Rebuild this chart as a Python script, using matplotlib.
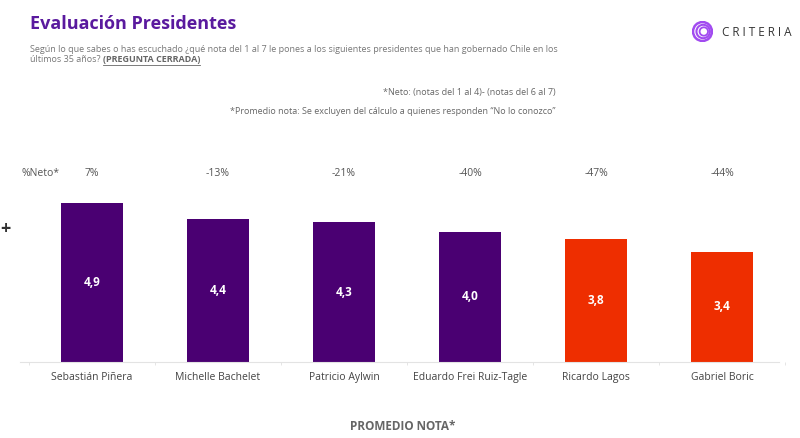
import matplotlib
matplotlib.use("Agg")
import matplotlib.pyplot as plt
from matplotlib.patches import Circle

plt.rcParams['font.family'] = ['Open Sans', 'DejaVu Sans']

presidents = ["Sebastián Piñera", "Michelle Bachelet", "Patricio Aylwin",
              "Eduardo Frei Ruiz-Tagle", "Ricardo Lagos", "Gabriel Boric"]
promedio = [4.9, 4.4, 4.3, 4.0, 3.8, 3.4]
neto = [7, -13, -21, -40, -47, -44]

PURPLE = "#4a0072"
RED = "#ee2e00"
colors = [PURPLE] * 4 + [RED] * 2

W, H = 800, 438
fig = plt.figure(figsize=(W / 100, H / 100), dpi=100)


def fx(px):
    return px / W


def fy(py):
    return 1 - py / H


# main axes: baseline at y=362 px, slots from x=29 to 785
ax = fig.add_axes([fx(29), fy(362), fx(785 - 29), (362 - 180) / H])
x = range(len(presidents))
bars = ax.bar(x, promedio, width=0.49, color=colors)
ax.set_xlim(-0.5, len(presidents) - 0.5)
ax.set_ylim(0, 182 / 32.5)

for rect, v in zip(bars, promedio):
    ax.text(rect.get_x() + rect.get_width() / 2, v / 2, f"{v:.1f}".replace(".", ","),
            ha="center", va="center", color="white", fontsize=8.5, fontweight="bold")

for i, n in enumerate(neto):
    ax.text(i, (362 - 173) / 32.5, f"{n}%", ha="center", va="center",
            color="#555555", fontsize=7.5, clip_on=False)

ax.set_xticks(list(x))
ax.set_xticklabels(presidents, fontsize=7.5, color="#444444")
ax.tick_params(axis="x", length=0, pad=7)
ax.set_xticks([i + 0.5 for i in range(-1, len(presidents))], minor=True)
ax.tick_params(axis="x", which="minor", length=2, color="#e0e0e0")
ax.set_yticks([])
for s in ["top", "right", "left"]:
    ax.spines[s].set_visible(False)
ax.spines["bottom"].set_color("#e3e3e3")
ax.spines["bottom"].set_linewidth(0.8)
ax.spines["bottom"].set_bounds(-0.57, 5.45)

# titles and notes
fig.text(fx(30), fy(24), "Evaluación Presidentes", fontsize=13, fontweight="bold",
         color="#5a1a9e", va="center")
fig.text(fx(30), fy(50),
         "Según lo que sabes o has escuchado ¿qué nota del 1 al 7 le pones a los siguientes "
         "presidentes que han gobernado Chile en los",
         fontsize=6.5, color="#777777", va="center")
t1 = fig.text(fx(30), fy(60), "últimos 35 años? ", fontsize=6.5, color="#777777",
              va="center")
fig.canvas.draw()
bb = t1.get_window_extent()
t2 = fig.text(bb.x1 / W, fy(60), "(PREGUNTA CERRADA)", fontsize=6.5, color="#666666",
              fontweight="bold", va="center")
fig.canvas.draw()
bb2 = t2.get_window_extent()
fig.add_artist(plt.Line2D([bb2.x0 / W, bb2.x1 / W], [bb2.y0 / H, bb2.y0 / H],
                          color="#666666", lw=0.6))

fig.text(fx(556), fy(93), "*Neto: (notas del 1 al 4)- (notas del 6 al 7)",
         fontsize=6.5, color="#666666", ha="right", va="center")
fig.text(fx(556), fy(111),
         "*Promedio nota: Se excluyen del cálculo a quienes responden \u201cNo lo conozco\u201d",
         fontsize=6.5, color="#666666", ha="right", va="center")

fig.text(fx(22), fy(173), "%Neto*", fontsize=7.5, color="#555555", va="center")
fig.text(fx(5), fy(229), "+", fontsize=13, fontweight="bold", color="#333333",
         ha="center", va="center")

fig.text(fx(403), fy(427), "PROMEDIO NOTA*", fontsize=8.5, fontweight="bold",
         color="#666666", ha="center", va="center")

# logo
lax = fig.add_axes([fx(692), fy(42), fx(21), 21 / H])
lax.set_xlim(-1, 1)
lax.set_ylim(-1, 1)
lax.set_aspect("equal")
lax.axis("off")
for r, lw in [(0.9, 1.8), (0.64, 1.5), (0.4, 1.3)]:
    lax.add_patch(Circle((0.25 * (0.9 - r), 0), r, fill=False, ec="#a24bf0", lw=lw))
fig.text(fx(722), fy(32), "C R I T E R I A", fontsize=8.5, color="#333333", va="center")

fig.savefig("out.png", dpi=100)
